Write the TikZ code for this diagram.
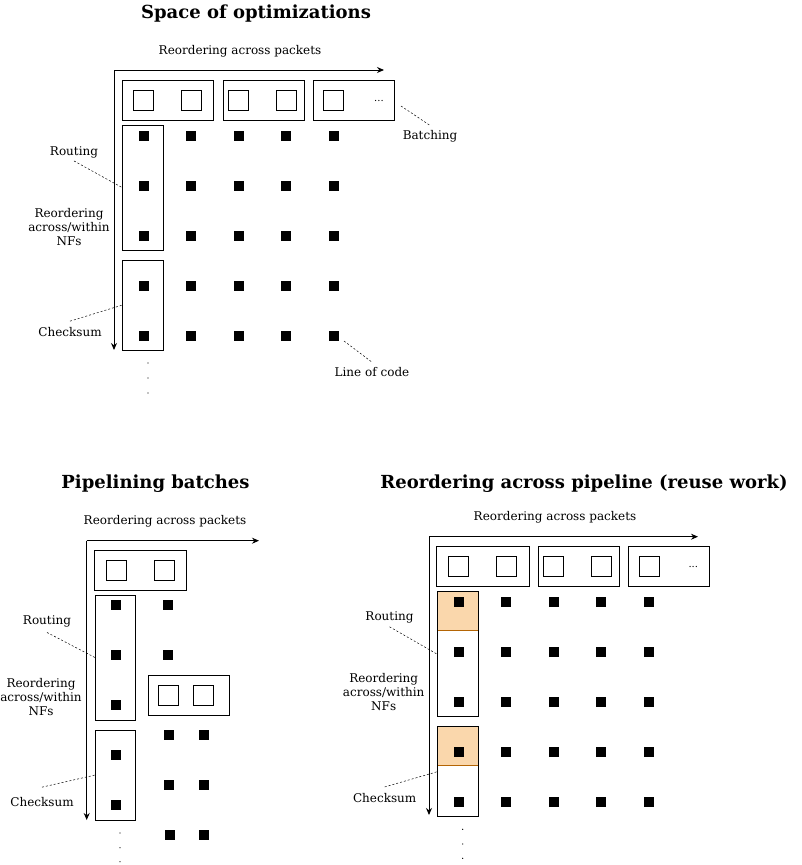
\documentclass[tikz,border=0pt]{standalone}
\usepackage{fontspec}
\setmainfont{DejaVu Serif}
\usetikzlibrary{arrows.meta,fit}
\definecolor{hlfill}{HTML}{FAD7AC}
\definecolor{hldraw}{HTML}{B46504}
\begin{document}
\begin{tikzpicture}[x=1pt,y=-1pt,
 box/.style={draw=black,line width=1pt,inner sep=0pt},
 hlbox/.style={fill=hlfill,draw=hldraw,line width=1pt,inner sep=0pt},
 pkt/.style={draw=black,line width=1pt,minimum size=20pt,inner sep=0pt},
 loc/.style={fill=black,minimum size=10pt,inner sep=0pt},
 vdot/.style={circle,fill=black,minimum size=1.3pt,inner sep=0pt},
 lbl/.style={font=\fontsize{12}{14}\selectfont,align=center,inner sep=0pt},
 ell/.style={font=\fontsize{10}{10}\selectfont,inner sep=0pt},
 ttl/.style={font=\fontsize{18}{20}\selectfont\bfseries,inner sep=0pt},
 axis/.style={line width=1pt,-{Stealth[length=7pt,width=6pt]}},
 lead/.style={line width=0.5pt,dash pattern=on 2pt off 2pt}
]
\useasboundingbox (0,0) rectangle (802,865);

% ================= Top: Space of optimizations =================
\node[ttl] (t1) at (256,14) {Space of optimizations};
\node[lbl] (h1) at (240,51.5) {Reordering across packets};
\coordinate (o1) at (114,70);
\coordinate (ex1) at (384,70);
\coordinate (ey1) at (114,350);
\draw[axis] (o1) -- (ex1);
\draw[axis] (o1) -- (ey1);

\node[box,fit={(122,80)(213.5,120)}] (b1a) {};
\node[box,fit={(223.5,80)(304,120)}] (b1b) {};
\node[box,fit={(313.5,80)(394,120)}] (b1c) {};
\node[pkt] (p1a) at (143.8,100) {};
\node[pkt] (p1b) at (191.3,100) {};
\node[pkt] (p1c) at (238.8,100) {};
\node[pkt] (p1d) at (286.3,100) {};
\node[pkt] (p1e) at (333.7,100) {};
\node[ell] (e1) at (379,101) {...};

\node[box,fit={(122.5,125)(163.3,250)}] (nf1a) {};
\node[box,fit={(122.5,260.3)(163.3,350)}] (nf1b) {};

\foreach \c/\x in {1/143.5,2/191,3/238.5,4/286,5/333.5}
  \foreach \r/\y in {1/135.5,2/185.5,3/235.5,4/285.5,5/335.5}
    \node[loc] (g1-\r-\c) at (\x,\y) {};

\node[lbl] (r1) at (74,152) {Routing};
\node[lbl] (n1) at (69,227) {Reordering\\across/within\\NFs};
\node[lbl] (c1) at (70,332) {Checksum};
\node[lbl] (k1) at (430,136.5) {Batching};
\node[lbl] (l1) at (372,372) {Line of code};
\coordinate (k1s) at (401,106);
\coordinate (l1s) at (344,341);
\draw[lead] ([yshift=-3pt]r1.south) -- (nf1a.west);
\draw[lead] ([yshift=6pt]c1.north) -- (nf1b.west);
\draw[lead] (k1s) -- ([yshift=5pt]k1.north);
\draw[lead] (l1s) -- ([yshift=5pt]l1.north);

\node[vdot] (v1a) at (148,363) {};
\node[vdot] (v1b) at (148,378) {};
\node[vdot] (v1c) at (148,393) {};

% ================= Bottom left: Pipelining batches =================
\node[ttl] (t2) at (155.5,484) {Pipelining batches};
\node[lbl] (h2) at (165,521.5) {Reordering across packets};
\coordinate (o2) at (86.7,540.7);
\coordinate (ex2) at (259,540.7);
\coordinate (ey2) at (86.7,820);
\draw[axis] (o2) -- (ex2);
\draw[axis] (o2) -- (ey2);

\node[box,fit={(94.3,550.3)(186.7,590)}] (b2a) {};
\node[pkt] (p2a) at (116.5,570) {};
\node[pkt] (p2b) at (164,570) {};
\node[box,fit={(95.7,595.3)(135.3,720)}] (nf2a) {};
\node[box,fit={(95.7,730)(135.3,820)}] (nf2b) {};
\foreach \r/\y in {1/605,2/655,3/705,4/755,5/805}
  \node[loc] (g2-\r-1) at (116,\y) {};
\node[loc] (g2-1-2) at (167.8,605) {};
\node[loc] (g2-2-2) at (167.8,655) {};

\node[box,fit={(148.7,675)(229.3,715.7)}] (b2b) {};
\node[pkt] (p2c) at (168.8,695.3) {};
\node[pkt] (p2d) at (203.8,695.3) {};
\node[loc] (g2-4-2) at (168.5,735) {};
\node[loc] (g2-4-3) at (204,735) {};
\node[loc] (g2-5-2) at (169,785) {};
\node[loc] (g2-5-3) at (204,785) {};
\node[loc] (g2-6-2) at (170,835) {};
\node[loc] (g2-6-3) at (204,835) {};

\node[lbl] (r2) at (47,621.5) {Routing};
\node[lbl] (n2) at (41,697) {Reordering\\across/within\\NFs};
\node[lbl] (c2) at (42,802) {Checksum};
\draw[lead] ([yshift=-5pt]r2.south) -- (nf2a.west);
\draw[lead] ([yshift=10pt]c2.north) -- (nf2b.west);

\node[vdot] (v2a) at (120,833) {};
\node[vdot] (v2b) at (120,847.7) {};
\node[vdot] (v2c) at (120,861.7) {};

% ================= Bottom right: Reordering across pipeline =================
\node[ttl] (t3) at (584,484) {Reordering across pipeline (reuse work)};
\node[lbl] (h3) at (555,517.5) {Reordering across packets};
\coordinate (o3) at (429,536.7);
\coordinate (ex3) at (698,536.7);
\coordinate (ey3) at (429,815);
\draw[axis] (o3) -- (ex3);
\draw[axis] (o3) -- (ey3);

\node[box,fit={(436.7,546.7)(529,586.3)}] (b3a) {};
\node[box,fit={(538.7,546.7)(619,586.3)}] (b3b) {};
\node[box,fit={(628.7,546.7)(709,586.3)}] (b3c) {};
\node[pkt] (p3a) at (458.8,566.3) {};
\node[pkt] (p3b) at (506.5,566.3) {};
\node[pkt] (p3c) at (553.7,566.3) {};
\node[pkt] (p3d) at (601.5,566.3) {};
\node[pkt] (p3e) at (649,566.3) {};
\node[ell] (e3) at (693.3,567) {...};

\node[hlbox,fit={(437.7,591.7)(478,630.7)}] (hl3a) {};
\node[hlbox,fit={(437.7,726.7)(478,765.3)}] (hl3b) {};
\node[box,fit={(437.7,591.7)(478,716.7)}] (nf3a) {};
\node[box,fit={(437.7,726.7)(478,816.7)}] (nf3b) {};

\foreach \c/\x in {1/458.5,2/506,3/553.5,4/601,5/648.5}
  \foreach \r/\y in {1/601.5,2/651.5,3/701.5,4/751.5,5/801.5}
    \node[loc] (g3-\r-\c) at (\x,\y) {};

\node[lbl] (r3) at (389.5,617.8) {Routing};
\node[lbl] (n3) at (383.7,692.5) {Reordering\\across/within\\NFs};
\node[lbl] (c3) at (384.7,797.8) {Checksum};
\draw[lead] ([yshift=-3pt]r3.south) -- (nf3a.west);
\draw[lead] ([yshift=6pt]c3.north) -- (nf3b.west);

\node[vdot] (v3a) at (462.7,829.3) {};
\node[vdot] (v3b) at (462.7,844) {};
\node[vdot] (v3c) at (462.7,858.3) {};
\end{tikzpicture}
\end{document}
